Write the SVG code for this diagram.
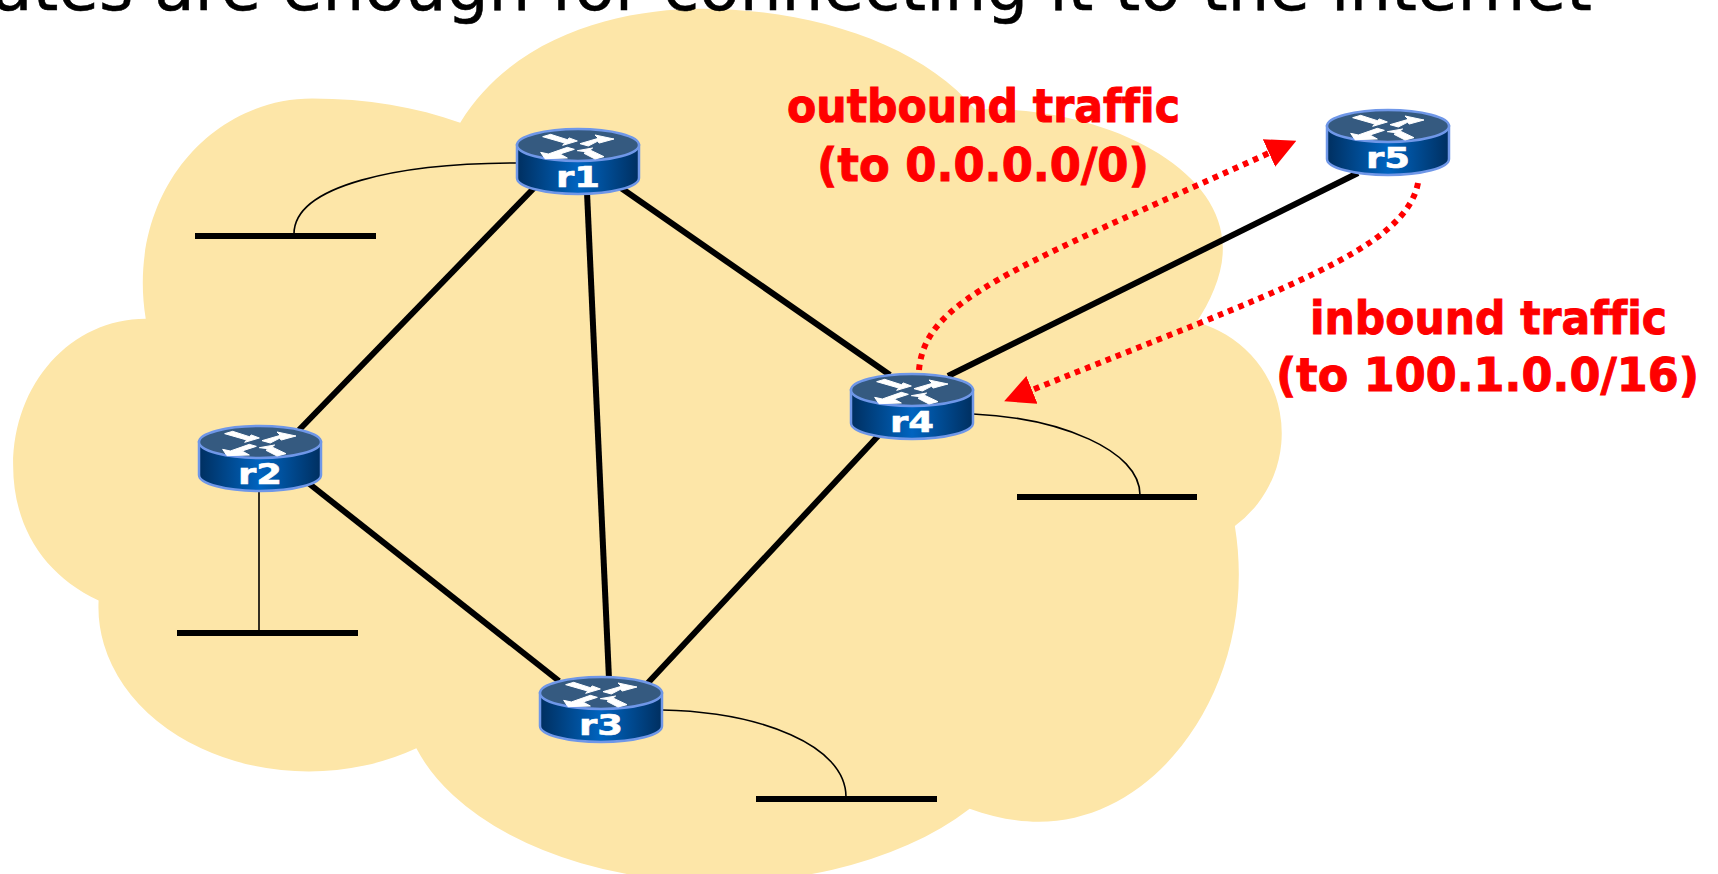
<svg xmlns="http://www.w3.org/2000/svg" xmlns:xlink="http://www.w3.org/1999/xlink" width="1718" height="874" viewBox="0 0 1718 874">
<style>
.title{font-family:"DejaVu Sans",sans-serif;font-size:66px;fill:#000;stroke:#000;stroke-width:.5}
.lab{font-family:"DejaVu Sans",sans-serif;font-weight:bold;font-size:47px;fill:#f00;stroke:#f00;stroke-width:1;font-variant-ligatures:none}
.rl{font-family:"DejaVu Sans",sans-serif;font-weight:bold;font-size:29px;fill:#fff;stroke:#fff;stroke-width:.6}
.link{stroke:#000;stroke-width:6;fill:none}
.thin{stroke:#000;stroke-width:1.6;fill:none}
.bar{stroke:#000;stroke-width:6;fill:none}
.dot{stroke:#f00;stroke-width:6;stroke-dasharray:5.5 5.5;fill:none;marker-end:url(#ah)}
</style>
<defs>
<linearGradient id="body" x1="0" x2="1" y1="0" y2="0">
<stop offset="0" stop-color="#002f60"/><stop offset="0.5" stop-color="#0064c0"/><stop offset="1" stop-color="#002f60"/>
</linearGradient>
<marker id="ah" markerUnits="userSpaceOnUse" markerWidth="30" markerHeight="30" viewBox="0 0 30 30" refX="0" refY="15" orient="auto"><path d="M0,0L30,15L0,30z" fill="#f00"/></marker>
<g id="router">
<path d="M-61,16V49A61,16 0 0 0 61,49V16z" fill="url(#body)" stroke="#6f97e8" stroke-width="2.5"/>
<ellipse cx="0" cy="16" rx="61" ry="16" fill="#355a80" stroke="#6f97e8" stroke-width="2.5"/>
<g fill="#fff" stroke="#fff" stroke-width="3" transform="scale(.3333) translate(-294,-85)">
<path d="M188,108L212,101L262,117L268,112L292,121L248,134L254,127z"/>
<path d="M300,129L355,113L345,103L402,115L358,127L352,122L325,136z"/>
<path d="M283,146L240,160L262,172L195,174L182,155L205,160L262,140z"/>
<path d="M292,150L338,142L330,148L372,168L345,175L312,158L318,153z"/>
</g>
</g>
</defs>
<rect width="1718" height="874" fill="#fff"/>
<path id="cloud" fill="#fde6a8" transform="scale(1.0957)" d="M420,112C470,30 570,8 640,8C740,8 840,40 890,100C1000,95 1118,150 1116,228C1116,250 1105,275 1092,294A105,105 0 0 1 1127,480C1150,620 1060,750 948,750C925,750 905,745 885,738A290,175 0 0 1 380,683A192,150 0 0 1 90,548C40,525 12,480 12,425C12,350 65,291 133,291C115,180 190,90 285,90C335,90 380,98 420,112z"/>
<text class="title" x="-8" y="10">ates are enough for connecting it to the internet</text>
<g id="connectors">
<path class="link" d="M534,188L299,430"/>
<path class="link" d="M587,192L609,679"/>
<path class="link" d="M621,188L890,375"/>
<path class="link" d="M307,482L559,681"/>
<path class="link" d="M646,685L879,435"/>
<path class="link" d="M948,376L1358,173"/>
<path class="thin" d="M516,163C400,163 294,185 294,234"/>
<path class="thin" d="M259,489V633"/>
<path class="thin" d="M662,710C760,712 846,745 846,797"/>
<path class="thin" d="M973,414C1060,418 1140,450 1140,495"/>
<path class="dot" d="M919,370C925,300 1010,270 1269,153"/>
<path class="dot" d="M1418,183C1405,250 1280,290 1032,390"/>
</g>
<path class="bar" d="M195,236H376M177,633H358M756,799H937M1017,497H1197"/>
<g id="r1"><use xlink:href="#router" href="#router" x="578" y="129"/><text class="rl" x="556" y="187" textLength="44" lengthAdjust="spacingAndGlyphs">r1</text></g>
<g id="r2"><use xlink:href="#router" href="#router" x="260" y="426"/><text class="rl" x="238" y="484" textLength="44" lengthAdjust="spacingAndGlyphs">r2</text></g>
<g id="r3"><use xlink:href="#router" href="#router" x="601" y="677"/><text class="rl" x="579" y="735" textLength="44" lengthAdjust="spacingAndGlyphs">r3</text></g>
<g id="r4"><use xlink:href="#router" href="#router" x="912" y="374"/><text class="rl" x="890" y="432" textLength="44" lengthAdjust="spacingAndGlyphs">r4</text></g>
<g id="r5"><use xlink:href="#router" href="#router" x="1388" y="110"/><text class="rl" x="1366" y="168" textLength="44" lengthAdjust="spacingAndGlyphs">r5</text></g>
<text class="lab" x="787" y="122" textLength="393" lengthAdjust="spacingAndGlyphs">outbound traffic</text>
<text class="lab" x="817" y="181" textLength="332" lengthAdjust="spacingAndGlyphs">(to 0.0.0.0/0)</text>
<text class="lab" x="1310" y="334" textLength="357" lengthAdjust="spacingAndGlyphs">inbound traffic</text>
<text class="lab" x="1276" y="391" textLength="423" lengthAdjust="spacingAndGlyphs">(to 100.1.0.0/16)</text>
</svg>
